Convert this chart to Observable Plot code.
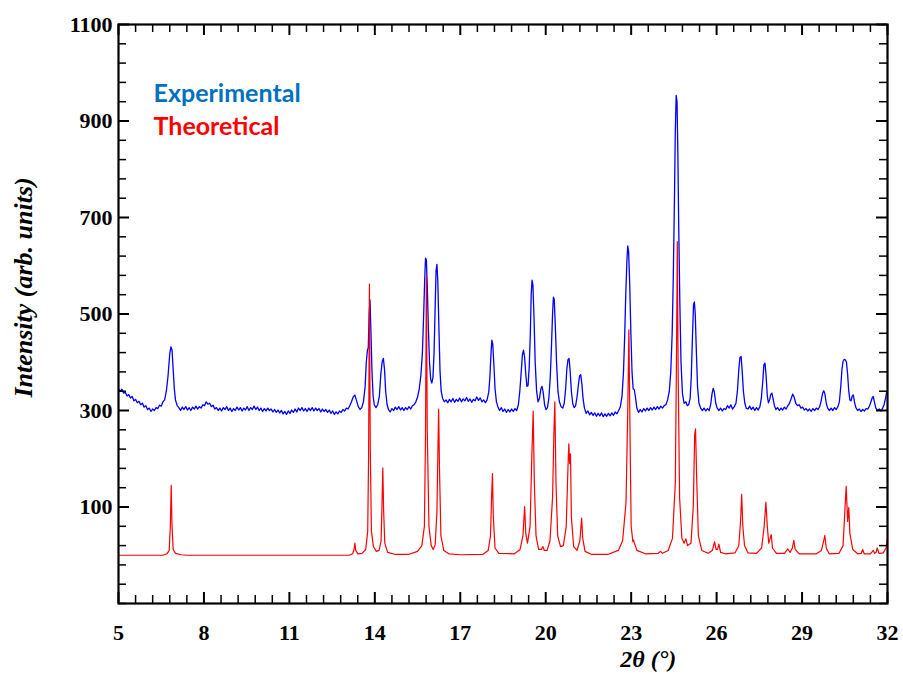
<!DOCTYPE html>
<html><head><meta charset="utf-8">
<script src="https://cdn.jsdelivr.net/npm/d3@7"></script>
<script src="https://cdn.jsdelivr.net/npm/@observablehq/plot@0.6"></script>
<style>body{margin:0;background:#fff}</style>
</head><body><div id="chart"></div>
<script>
const experimental = [
[5.00,345],[5.06,340],[5.12,344],[5.18,336],[5.24,338],[5.30,330],[5.36,333],[5.42,326],[5.48,329],[5.54,320],[5.60,323],[5.66,316],[5.72,319],[5.78,312],[5.84,315],[5.90,307],[5.96,310],[6.02,302],[6.08,305],[6.14,298],[6.20,303],[6.26,300],[6.32,306],[6.38,304],[6.44,311],[6.50,309],[6.56,318],[6.62,322],[6.68,340],[6.74,372],[6.80,418],[6.84,432],[6.88,425],[6.92,385],[6.96,345],[7.00,322],[7.06,310],[7.12,306],[7.18,300],[7.24,307],[7.30,302],[7.36,308],[7.42,301],[7.48,306],[7.54,300],[7.60,307],[7.66,303],[7.72,309],[7.78,303],[7.84,308],[7.90,305],[7.96,312],[8.02,310],[8.08,318],[8.14,313],[8.20,315],[8.26,308],[8.32,311],[8.38,303],[8.44,306],[8.50,300],[8.56,305],[8.62,299],[8.68,306],[8.74,302],[8.80,308],[8.86,300],[8.92,305],[8.98,298],[9.04,304],[9.10,300],[9.16,307],[9.22,301],[9.28,306],[9.34,299],[9.40,305],[9.46,301],[9.52,308],[9.58,300],[9.64,306],[9.70,302],[9.76,309],[9.82,302],[9.88,307],[9.94,300],[10.00,305],[10.06,298],[10.12,304],[10.18,299],[10.24,305],[10.30,300],[10.36,303],[10.42,297],[10.48,302],[10.54,296],[10.60,301],[10.66,295],[10.72,300],[10.78,293],[10.84,298],[10.90,292],[10.96,299],[11.02,294],[11.08,301],[11.14,296],[11.20,303],[11.26,297],[11.32,305],[11.38,300],[11.44,306],[11.50,299],[11.56,304],[11.62,298],[11.68,305],[11.74,300],[11.80,306],[11.86,299],[11.92,305],[11.98,300],[12.04,304],[12.10,297],[12.16,303],[12.22,298],[12.28,302],[12.34,296],[12.40,301],[12.46,294],[12.52,299],[12.58,292],[12.64,297],[12.70,293],[12.76,299],[12.82,296],[12.88,302],[12.94,299],[13.00,305],[13.06,303],[13.12,310],[13.18,318],[13.24,328],[13.30,332],[13.36,320],[13.42,308],[13.48,302],[13.54,306],[13.60,318],[13.66,350],[13.70,400],[13.74,425],[13.77,430],[13.80,500],[13.83,529],[13.86,470],[13.90,380],[13.94,330],[13.98,312],[14.04,306],[14.10,312],[14.16,330],[14.21,375],[14.26,402],[14.30,408],[14.34,385],[14.38,340],[14.43,312],[14.48,302],[14.54,297],[14.60,304],[14.66,300],[14.72,307],[14.78,302],[14.84,308],[14.90,301],[14.96,306],[15.02,300],[15.08,306],[15.14,302],[15.20,308],[15.26,303],[15.32,310],[15.38,312],[15.44,318],[15.50,328],[15.56,345],[15.62,375],[15.67,420],[15.71,490],[15.75,570],[15.78,616],[15.81,612],[15.84,560],[15.88,470],[15.92,400],[15.96,365],[16.00,357],[16.04,368],[16.08,420],[16.12,520],[16.15,590],[16.18,603],[16.21,570],[16.25,470],[16.29,380],[16.33,340],[16.38,325],[16.44,318],[16.50,322],[16.56,316],[16.62,323],[16.68,318],[16.74,325],[16.80,317],[16.86,323],[16.92,319],[16.98,326],[17.04,318],[17.10,324],[17.16,320],[17.22,327],[17.28,319],[17.34,324],[17.40,317],[17.46,323],[17.52,320],[17.58,328],[17.64,321],[17.70,326],[17.76,318],[17.82,322],[17.88,316],[17.94,322],[18.00,338],[18.04,370],[18.08,420],[18.11,446],[18.14,438],[18.18,395],[18.22,345],[18.27,318],[18.32,308],[18.38,300],[18.44,306],[18.50,298],[18.56,303],[18.62,296],[18.68,302],[18.74,297],[18.80,303],[18.86,298],[18.92,304],[18.98,300],[19.04,312],[19.09,340],[19.14,380],[19.18,415],[19.22,425],[19.26,410],[19.30,375],[19.34,350],[19.38,352],[19.42,390],[19.46,460],[19.49,540],[19.52,570],[19.55,560],[19.59,490],[19.63,400],[19.68,340],[19.73,318],[19.78,325],[19.83,345],[19.87,350],[19.91,338],[19.96,312],[20.01,302],[20.06,306],[20.11,325],[20.16,370],[20.20,430],[20.24,500],[20.27,535],[20.30,530],[20.34,470],[20.38,400],[20.43,340],[20.48,318],[20.54,308],[20.60,305],[20.65,315],[20.70,345],[20.74,385],[20.78,405],[20.82,408],[20.86,380],[20.90,340],[20.95,314],[21.00,306],[21.05,310],[21.10,328],[21.15,355],[21.19,372],[21.23,374],[21.27,355],[21.31,325],[21.36,305],[21.42,294],[21.48,299],[21.54,291],[21.60,296],[21.66,290],[21.72,295],[21.78,288],[21.84,294],[21.90,289],[21.96,295],[22.02,287],[22.08,293],[22.14,288],[22.20,294],[22.26,289],[22.32,295],[22.38,290],[22.44,297],[22.50,293],[22.56,300],[22.62,308],[22.68,330],[22.73,380],[22.77,450],[22.81,540],[22.85,610],[22.88,641],[22.91,630],[22.95,560],[22.99,460],[23.03,380],[23.07,345],[23.11,343],[23.15,328],[23.20,305],[23.26,296],[23.32,302],[23.38,297],[23.44,304],[23.50,299],[23.56,305],[23.62,300],[23.68,306],[23.74,301],[23.80,307],[23.86,302],[23.92,308],[23.98,303],[24.04,309],[24.10,305],[24.16,310],[24.22,312],[24.28,322],[24.34,340],[24.39,380],[24.44,460],[24.48,580],[24.52,740],[24.55,880],[24.58,953],[24.61,940],[24.64,830],[24.67,680],[24.71,520],[24.75,400],[24.80,335],[24.86,315],[24.92,318],[24.97,310],[25.02,312],[25.07,325],[25.11,370],[25.15,450],[25.19,520],[25.22,525],[25.25,500],[25.29,420],[25.33,350],[25.38,315],[25.44,305],[25.50,300],[25.56,305],[25.62,299],[25.68,304],[25.74,300],[25.79,312],[25.84,335],[25.88,346],[25.92,338],[25.97,315],[26.02,305],[26.08,300],[26.14,305],[26.20,299],[26.26,304],[26.32,302],[26.38,310],[26.44,305],[26.50,312],[26.56,303],[26.62,308],[26.68,315],[26.73,340],[26.78,385],[26.82,410],[26.86,412],[26.90,380],[26.94,340],[26.99,315],[27.04,305],[27.10,303],[27.16,309],[27.22,302],[27.28,307],[27.34,300],[27.40,306],[27.46,301],[27.52,308],[27.57,325],[27.62,360],[27.66,395],[27.70,398],[27.74,370],[27.78,330],[27.82,316],[27.86,322],[27.90,333],[27.94,336],[27.98,325],[28.03,310],[28.08,302],[28.14,306],[28.20,300],[28.26,305],[28.32,301],[28.38,307],[28.44,303],[28.50,310],[28.56,315],[28.62,325],[28.67,334],[28.72,328],[28.78,315],[28.84,310],[28.90,312],[28.96,305],[29.02,307],[29.08,301],[29.14,304],[29.20,299],[29.26,303],[29.32,298],[29.38,304],[29.44,300],[29.50,305],[29.56,302],[29.62,308],[29.67,320],[29.72,335],[29.76,341],[29.80,335],[29.85,315],[29.90,305],[29.96,300],[30.02,305],[30.08,300],[30.14,306],[30.20,302],[30.26,308],[30.31,318],[30.36,350],[30.40,385],[30.44,402],[30.48,406],[30.52,405],[30.56,400],[30.60,375],[30.64,340],[30.68,322],[30.72,320],[30.76,330],[30.80,332],[30.84,318],[30.89,306],[30.95,300],[31.01,303],[31.07,298],[31.13,302],[31.19,299],[31.25,304],[31.31,303],[31.37,310],[31.42,318],[31.46,326],[31.50,329],[31.54,318],[31.59,305],[31.65,300],[31.71,303],[31.77,299],[31.83,305],[31.88,312],[31.93,325],[31.97,338],[32.00,339]
];
const theoretical = [
[5,0],[6.55,0],[6.7,3],[6.78,10],[6.82,60],[6.85,145],[6.88,60],[6.92,12],[7.0,4],[7.2,1],[7.4,0],
[13.1,0],[13.22,3],[13.27,12],[13.30,25],[13.33,10],[13.4,3],[13.55,4],[13.68,12],[13.75,50],[13.78,200],[13.81,562],[13.84,220],[13.88,50],[13.95,18],[14.05,8],[14.15,10],[14.22,30],[14.25,100],[14.28,181],[14.31,90],[14.35,25],[14.45,6],[14.7,2],[15.2,2],[15.5,8],[15.65,20],[15.74,60],[15.78,250],[15.81,579],[15.84,260],[15.9,60],[15.98,20],[16.05,12],[16.12,22],[16.18,90],[16.21,200],[16.24,303],[16.27,180],[16.32,40],[16.42,10],[16.6,3],[17.0,1],[17.8,2],[17.98,10],[18.06,40],[18.10,120],[18.13,169],[18.16,80],[18.22,15],[18.35,4],[18.9,3],[19.1,12],[19.2,40],[19.26,101],[19.3,45],[19.36,25],[19.45,60],[19.51,200],[19.56,299],[19.6,150],[19.66,40],[19.75,12],[19.85,12],[19.9,18],[19.95,10],[20.05,10],[20.15,30],[20.24,120],[20.29,260],[20.32,318],[20.36,150],[20.42,40],[20.52,18],[20.62,20],[20.72,60],[20.78,180],[20.81,231],[20.84,190],[20.87,210],[20.9,80],[20.98,18],[21.1,10],[21.2,30],[21.26,77],[21.3,35],[21.38,8],[21.6,2],[22.2,2],[22.55,10],[22.7,30],[22.82,110],[22.88,300],[22.92,467],[22.96,250],[23.0,60],[23.06,28],[23.08,32],[23.11,26],[23.2,10],[23.5,3],[23.95,4],[24.03,8],[24.1,4],[24.3,10],[24.45,35],[24.55,150],[24.59,400],[24.62,650],[24.65,380],[24.7,120],[24.78,35],[24.86,25],[24.92,34],[24.98,20],[25.1,25],[25.18,100],[25.23,250],[25.26,262],[25.3,160],[25.36,40],[25.48,10],[25.7,4],[25.85,10],[25.93,28],[25.98,12],[26.03,12],[26.08,23],[26.14,6],[26.3,3],[26.65,5],[26.78,20],[26.84,70],[26.88,126],[26.92,60],[26.98,20],[27.1,5],[27.4,4],[27.58,15],[27.67,60],[27.73,110],[27.78,60],[27.83,25],[27.88,35],[27.92,43],[27.96,15],[28.1,4],[28.38,4],[28.5,13],[28.58,6],[28.66,15],[28.71,31],[28.76,12],[28.9,3],[29.5,3],[29.68,10],[29.76,30],[29.8,41],[29.85,15],[29.95,3],[30.3,4],[30.44,20],[30.51,100],[30.55,143],[30.6,70],[30.64,99],[30.68,45],[30.78,12],[30.95,3],[31.08,4],[31.13,12],[31.18,3],[31.4,3],[31.5,10],[31.55,4],[31.6,6],[31.64,15],[31.7,4],[31.85,5],[31.95,15],[32.0,36]
];
const xTickLabels = [5, 8, 11, 14, 17, 20, 23, 26, 29, 32];
const yTickLabels = [100, 300, 500, 700, 900, 1100];
const seriesNames = ["Experimental", "Theoretical"];
const legendColors = ["#0070C0", "#FF0000"];
const lineColors = ["#0000FF", "#FF0000"];
const xLabel = "2θ (°)";
const yLabel = "Intensity (arb. units)";

const W = 903, H = 675, mL = 118, mR = 16, mT = 24, mB = 72;
const xDom = [5, 32], yDom = [-100, 1100];
const pw = W - mL - mR, ph = H - mT - mB;
const ux = (xDom[1] - xDom[0]) / pw, uy = (yDom[1] - yDom[0]) / ph;
const notMajor = (arr) => (v) => !arr.some(t => Math.abs(t - v) < 1e-6);
const xMinor = d3.range(xDom[0], xDom[1] + 1e-6, 0.6).map(v => +v.toFixed(2)).filter(notMajor(xTickLabels));
const yMinor = d3.range(yDom[0], yDom[1] + 1e-6, 40).filter(notMajor(yTickLabels));
const majLen = 11, minLen = 8;

const tickMarks = [];
for (const [vals, len, sw] of [[xTickLabels, majLen, 2], [xMinor, minLen, 1.5]]) {
  tickMarks.push(Plot.ruleX(vals, {x: d => d, y1: yDom[0], y2: yDom[0] + len * uy, strokeWidth: sw}));
  tickMarks.push(Plot.ruleX(vals, {x: d => d, y1: yDom[1], y2: yDom[1] - len * uy, strokeWidth: sw}));
}
for (const [vals, len, sw] of [[yTickLabels, majLen, 2], [yMinor, minLen, 1.5]]) {
  tickMarks.push(Plot.ruleY(vals, {y: d => d, x1: xDom[0], x2: xDom[0] + len * ux, strokeWidth: sw}));
  tickMarks.push(Plot.ruleY(vals, {y: d => d, x1: xDom[1], x2: xDom[1] - len * ux, strokeWidth: sw}));
}

const chart = Plot.plot({
  width: W, height: H,
  marginLeft: mL, marginRight: mR, marginTop: mT, marginBottom: mB,
  style: {fontFamily: "'Liberation Serif', serif", fontSize: "22px", fontWeight: "bold", color: "black", background: "white"},
  x: {domain: xDom, label: null},
  y: {domain: yDom, label: null},
  marks: [
    Plot.line(experimental, {x: d => d[0], y: d => d[1], stroke: lineColors[0], strokeWidth: 1.3, clip: true}),
    Plot.line(theoretical, {x: d => d[0], y: d => d[1], stroke: lineColors[1], strokeWidth: 1.2, clip: true}),
    ...tickMarks,
    Plot.frame({stroke: "black", strokeWidth: 2.2}),
    Plot.axisX({ticks: xTickLabels, tickSize: 0, tickPadding: 21, tickFormat: d => String(d)}),
    Plot.axisY({ticks: yTickLabels, tickSize: 0, tickPadding: 6, tickFormat: d => String(d)}),
    Plot.text([xLabel], {frameAnchor: "bottom", x: 23.6, dy: 63, fontStyle: "italic", fontSize: 24, fontWeight: "bold"}),
    Plot.text([yLabel], {frameAnchor: "left", textAnchor: "middle", y: 555, dx: -95, rotate: -90, fontStyle: "italic", fontSize: 26, fontWeight: "bold"}),
    Plot.text([seriesNames[0]], {x: 6.23, y: 955, textAnchor: "start", fill: legendColors[0], fontFamily: "Lato", fontSize: 25, fontWeight: "bold"}),
    Plot.text([seriesNames[1]], {x: 6.23, y: 887, textAnchor: "start", fill: legendColors[1], fontFamily: "Lato", fontSize: 25, fontWeight: "bold"})
  ]
});
document.getElementById("chart").appendChild(chart);
</script>
</body></html>
